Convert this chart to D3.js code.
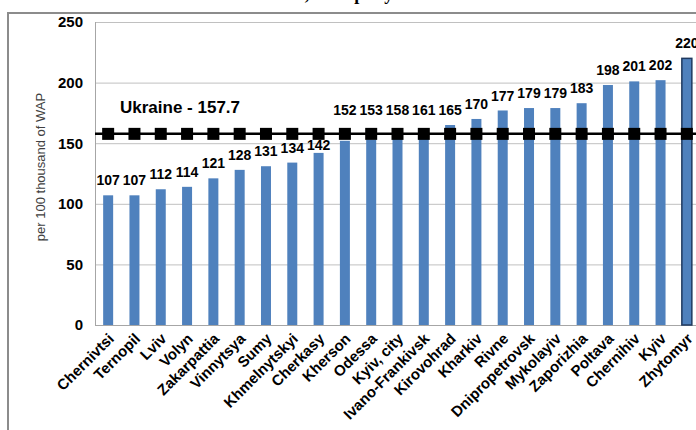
<!DOCTYPE html>
<html>
<head>
<meta charset="utf-8">
<script src="https://cdn.jsdelivr.net/npm/d3@7"></script>
<style>
  body { margin: 0; background: #fff; }
  svg { display: block; font-family: "Liberation Sans", Arial, sans-serif; }
</style>
</head>
<body>
<svg id="chart" width="696" height="430"></svg>
<script>
// oblasts, sorted by value
const regions = ["Chernivtsi", "Ternopil", "Lviv", "Volyn", "Zakarpattia", "Vinnytsya", "Sumy",
  "Khmelnytskyi", "Cherkasy", "Kherson", "Odessa", "Kyiv, city", "Ivano-Frankivsk", "Kirovohrad",
  "Kharkiv", "Rivne", "Dnipropetrovsk", "Mykolayiv", "Zaporizhia", "Poltava", "Chernihiv", "Kyiv", "Zhytomyr"];
const values = [107, 107, 112, 114, 121, 128, 131, 134, 142, 152, 153, 158, 161, 165, 170, 177, 179, 179, 183, 198, 201, 202, 220];
const ukraine = 157.7;
const yTicks = [0, 50, 100, 150, 200, 250];
const highlighted = "Zhytomyr";

const svg = d3.select("#chart");
const margin = { top: 22, left: 95, bottom: 105 };
const H = 430;

const x = d3.scaleBand().domain(regions).range([margin.left, 700]).paddingInner(0).paddingOuter(0);
const y = d3.scaleLinear().domain([0, 250]).range([H - margin.bottom, margin.top]);

// title (only its bottom edge is inside the picture)
svg.append("text")
  .attr("x", 178).attr("y", 0)
  .style("font-family", "Liberation Serif, serif")
  .style("font-weight", "bold")
  .style("font-size", "18px")
  .text("Number of cases, 2013 per year");

// outer frame
svg.append("rect")
  .attr("x", 8).attr("y", 13).attr("width", 720).attr("height", 440)
  .attr("fill", "none").attr("stroke", "#8c8c8c").attr("stroke-width", 2);

// grid
svg.append("g")
  .selectAll("line")
  .data(yTicks)
  .join("line")
  .attr("x1", margin.left).attr("x2", 696)
  .attr("y1", d => y(d) + 0.5).attr("y2", d => y(d) + 0.5)
  .attr("stroke", d => d === 0 ? "#a6a6a6" : "#c0c0c0")
  .attr("stroke-width", 1);

svg.append("line")
  .attr("x1", margin.left + 0.5).attr("x2", margin.left + 0.5)
  .attr("y1", y(250)).attr("y2", y(0))
  .attr("stroke", "#a6a6a6");

// y axis labels
const yAxis = d3.axisLeft(y).tickValues(yTicks).tickSize(0).tickPadding(12);
svg.append("g")
  .attr("transform", `translate(${margin.left},0)`)
  .call(yAxis)
  .call(g => g.select(".domain").remove())
  .selectAll("text")
  .style("font-family", "Liberation Sans, Arial, sans-serif")
  .style("font-weight", "bold")
  .style("font-size", "15px")
  .attr("fill", "#000");

// y title
svg.append("text")
  .attr("transform", "translate(45,167) rotate(-90)")
  .attr("text-anchor", "middle")
  .style("font-size", "13px")
  .attr("fill", "#404040")
  .text("per 100 thousand of WAP");

// bars
const barW = x.bandwidth() * 0.38;
svg.append("g")
  .selectAll("rect")
  .data(regions)
  .join("rect")
  .attr("x", d => x(d) + (x.bandwidth() - barW) / 2)
  .attr("y", (d, i) => y(values[i]))
  .attr("width", barW)
  .attr("height", (d, i) => y(0) - y(values[i]))
  .attr("fill", "#4f81bd")
  .attr("stroke", d => d === highlighted ? "#1f3a60" : "none")
  .attr("stroke-width", 1.5);

// Ukraine average line with markers
const yLine = y(ukraine);
svg.append("line")
  .attr("x1", margin.left).attr("x2", 696)
  .attr("y1", yLine).attr("y2", yLine)
  .attr("stroke", "#000").attr("stroke-width", 2.5);

svg.append("g")
  .selectAll("rect")
  .data(regions)
  .join("rect")
  .attr("x", d => x(d) + x.bandwidth() / 2 - 6)
  .attr("y", yLine - 6)
  .attr("width", 12).attr("height", 12)
  .attr("fill", "#000");

svg.append("text")
  .attr("x", 120).attr("y", 113)
  .style("font-weight", "bold")
  .style("font-size", "17px")
  .text("Ukraine - " + ukraine);

// value labels, nudged off the average line
function labelY(v) {
  const def = y(v) - 15;
  if (y(v) < yLine + 8 && def > yLine - 24) return yLine - 24;
  if (Math.abs(def - yLine) < 13) return yLine + 11;
  return def;
}
svg.append("g")
  .selectAll("text")
  .data(regions)
  .join("text")
  .attr("x", d => x(d) + x.bandwidth() / 2)
  .attr("y", (d, i) => labelY(values[i]))
  .attr("dy", "0.36em")
  .attr("text-anchor", "middle")
  .style("font-weight", "bold")
  .style("font-size", "14px")
  .text((d, i) => values[i]);

// x labels
svg.append("g")
  .selectAll("text")
  .data(regions)
  .join("text")
  .attr("transform", d => `translate(${x(d) + x.bandwidth() / 2 + 3},${y(0) + 11}) rotate(-45)`)
  .attr("text-anchor", "end")
  .attr("dy", "0.35em")
  .style("font-weight", "bold")
  .style("font-size", "15px")
  .text(d => d);
</script>
</body>
</html>
